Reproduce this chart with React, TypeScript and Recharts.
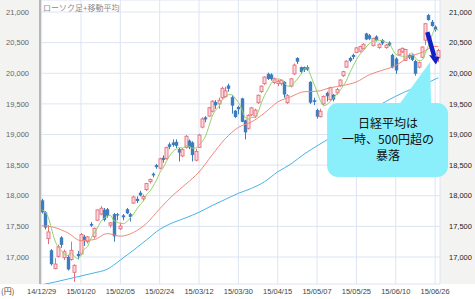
import React from 'react';
import { ComposedChart, Bar, Line, XAxis, YAxis, CartesianGrid, ReferenceDot } from 'recharts';

const dates = [
  '14/12/29','14/12/30','15/01/05','15/01/06','15/01/07','15/01/08','15/01/09','15/01/13','15/01/14','15/01/15',
  '15/01/16','15/01/19','15/01/20','15/01/21','15/01/22','15/01/23','15/01/26','15/01/27','15/01/28','15/01/29',
  '15/01/30','15/02/02','15/02/03','15/02/04','15/02/05','15/02/06','15/02/09','15/02/10','15/02/12','15/02/13',
  '15/02/16','15/02/17','15/02/18','15/02/19','15/02/20','15/02/23','15/02/24','15/02/25','15/02/26','15/02/27',
  '15/03/02','15/03/03','15/03/04','15/03/05','15/03/06','15/03/09','15/03/10','15/03/11','15/03/12','15/03/13',
  '15/03/16','15/03/17','15/03/18','15/03/19','15/03/20','15/03/23','15/03/24','15/03/25','15/03/26','15/03/27',
  '15/03/30','15/03/31','15/04/01','15/04/02','15/04/03','15/04/06','15/04/07','15/04/08','15/04/09','15/04/10',
  '15/04/13','15/04/14','15/04/15','15/04/16','15/04/17','15/04/20','15/04/21','15/04/22','15/04/23','15/04/24',
  '15/04/27','15/04/28','15/04/30','15/05/01','15/05/07','15/05/08','15/05/11','15/05/12','15/05/13','15/05/14',
  '15/05/15','15/05/18','15/05/19','15/05/20','15/05/21','15/05/22','15/05/25','15/05/26','15/05/27','15/05/28',
  '15/05/29','15/06/01','15/06/02','15/06/03','15/06/04','15/06/05','15/06/08','15/06/09','15/06/10','15/06/11',
  '15/06/12','15/06/15','15/06/16','15/06/17','15/06/18','15/06/19','15/06/22','15/06/23','15/06/24','15/06/25',
  '15/06/26','15/06/29',
];

const opens = [
  17925,17730,17300,17110,16810,17010,17320,16990,17000,16960,
  16750,17050,17050,17330,17250,17540,17330,17600,17700,17770,
  17780,17520,17700,17700,17460,17680,17780,17700,17880,17950,
  18050,17950,18100,18230,18360,18500,18450,18620,18610,18840,
  18870,18880,18760,18650,18790,18900,18870,18580,18790,19120,
  19280,19300,19380,19530,19500,19600,19620,19800,19610,19390,
  19450,19590,19230,19100,19320,19300,19520,19700,19830,19990,
  19980,19850,19830,19830,19860,19520,19790,19990,20250,20100,
  20100,20100,19860,19560,19400,19290,19500,19680,19570,19650,
  19680,19800,19960,20100,20250,20300,20340,20360,20400,20650,
  20620,20450,20600,20420,20540,20420,20500,20300,20240,20300,
  20350,20210,20300,20300,20200,20100,20260,20540,20950,20840,
  20760,20250,
];

const highs = [
  17950,17750,17520,17130,16980,17200,17340,17120,17030,17250,
  16880,17100,17390,17360,17340,17570,17480,17780,17830,17800,
  17800,17570,17720,17720,17560,17700,17800,17720,18000,17990,
  18080,18020,18210,18280,18380,18520,18620,18660,18800,18870,
  18920,18920,18780,18780,18990,18920,18890,18770,19010,19280,
  19300,19450,19560,19560,19600,19780,19780,19830,19640,19400,
  19470,19600,19240,19330,19450,19420,19650,19800,19950,20010,
  20000,19930,19890,19900,19870,19660,19920,20160,20260,20110,
  20110,20130,19870,19600,19420,19420,19640,19700,19780,19660,
  19760,19900,20040,20210,20270,20320,20430,20450,20490,20660,
  20640,20580,20620,20490,20560,20480,20520,20320,20260,20400,
  20420,20400,20320,20310,20220,20190,20440,20820,20970,20870,
  20780,20400,
];

const lows = [
  17710,17450,17210,16860,16800,16990,17150,16950,16780,16940,
  16592,16960,17030,17180,17220,17490,17300,17590,17680,17580,
  17640,17480,17250,17600,17440,17600,17700,17580,17870,17880,
  17990,17920,18080,18200,18300,18440,18430,18540,18590,18760,
  18800,18780,18560,18630,18770,18760,18560,18560,18780,19100,
  19200,19290,19360,19420,19420,19580,19600,19700,19340,19270,
  19330,19200,18920,19080,19300,19270,19500,19680,19810,19890,
  19880,19820,19790,19800,19600,19500,19770,19970,20150,19990,
  20020,20040,19500,19480,19260,19280,19480,19540,19550,19540,
  19650,19780,19940,20090,20180,20230,20330,20340,20390,20540,
  20540,20440,20520,20400,20460,20400,20440,20080,19990,20280,
  20330,20200,20230,20200,19960,20080,20250,20460,20860,20760,
  20680,20180,
];

const closes = [
  17730,17480,17409,16883,16885,17167,17197,17087,16796,17109,
  16864,17014,17366,17280,17329,17512,17469,17768,17796,17606,
  17674,17558,17336,17678,17505,17648,17712,17653,17980,17913,
  18005,17987,18199,18265,18332,18467,18603,18585,18786,18798,
  18827,18815,18704,18752,18971,18791,18665,18724,18991,19254,
  19246,19437,19544,19477,19560,19754,19713,19746,19471,19286,
  19411,19207,19035,19313,19435,19398,19641,19790,19938,19908,
  19905,19909,19870,19886,19653,19634,19909,20134,20188,20020,
  20059,20058,19520,19532,19292,19379,19621,19625,19765,19570,
  19733,19890,20026,20197,20203,20264,20414,20437,20473,20551,
  20563,20570,20543,20474,20488,20461,20457,20096,20046,20383,
  20407,20388,20258,20219,19991,20174,20428,20809,20868,20771,
  20706,20370,
];

// 5-day moving average (read per day)
const ma5 = [
  17769,17738,17649,17462,17277,17165,17108,17044,17026,17071,
  17011,16974,17030,17127,17171,17300,17391,17472,17575,17630,
  17663,17680,17594,17570,17550,17545,17576,17639,17700,17781,
  17853,17908,18017,18074,18158,18250,18373,18450,18555,18648,
  18720,18762,18786,18779,18814,18807,18777,18781,18828,18885,
  18976,19130,19294,19392,19453,19554,19610,19650,19649,19594,
  19525,19424,19282,19250,19280,19278,19364,19515,19640,19735,
  19836,19890,19906,19896,19845,19790,19790,19843,19904,19977,
  20062,20092,19969,19838,19692,19556,19469,19490,19536,19592,
  19663,19717,19797,19883,20010,20116,20221,20303,20358,20428,
  20488,20519,20540,20540,20528,20507,20485,20395,20310,20289,
  20278,20264,20296,20331,20253,20206,20214,20324,20454,20610,
  20716,20705,
];

// 25-day moving average (read at every 4th session)
const ma25: Record<number, number> = {
  0: 17511, 4: 17481, 8: 17394, 12: 17266, 16: 17284, 20: 17382, 24: 17340, 28: 17400,
  32: 17550, 36: 17786, 40: 18006, 44: 18190, 48: 18387, 52: 18666, 56: 18930, 60: 19116,
  64: 19205, 68: 19352, 72: 19530, 76: 19616, 80: 19698, 84: 19706, 88: 19763, 92: 19801,
  96: 19858, 100: 19977, 104: 20050, 108: 20126, 112: 20266, 116: 20340, 120: 20439, 121: 20437,
};

// 75-day moving average (read at every 4th session)
const ma75: Record<number, number> = {
  0: 16545, 4: 16590, 8: 16640, 12: 16690, 16: 16740, 20: 16800, 24: 16950, 28: 17110,
  32: 17280, 36: 17450, 40: 17560, 44: 17640, 48: 17730, 52: 17840, 56: 17940, 60: 18040,
  64: 18120, 68: 18230, 72: 18390, 76: 18517, 80: 18678, 84: 18814, 88: 18946, 92: 19068,
  96: 19207, 100: 19365, 104: 19509, 108: 19624, 112: 19723, 116: 19798, 120: 19903, 121: 19926,
};

const xTicks = ['14/12/29','15/01/20','15/02/05','15/02/24','15/03/12','15/03/30','15/04/15','15/05/07','15/05/25','15/06/10','15/06/26'];
const yTicks = [17000, 17500, 18000, 18500, 19000, 19500, 20000, 20500, 21000];
const yDomain = [16559, 21196];

const calloutLines = ['日経平均は', '一時、500円超の', '暴落'];
const legendTitle = 'ローソク足+移動平均';

const data = dates.map((d, i) => ({
  date: d,
  o: opens[i],
  h: highs[i],
  l: lows[i],
  c: closes[i],
  ma5: ma5[i],
  ma25: ma25[i] ?? null,
  ma75: ma75[i] ?? null,
}));

const UP = '#e3707c';
const UP_FILL = '#fbdade';
const DOWN = '#3d7dbd';

const Candle = (props: any) => {
  const { x, y, width, height, payload } = props;
  if (x == null || y == null || !payload) return null;
  const { o, h, l, c } = payload;
  const top = Math.min(y, y + height);
  const span = Math.abs(height);
  const k = h > l ? span / (h - l) : 0;
  const cx = Math.round(x + width / 2) + 0.5;
  const yO = top + (h - o) * k;
  const yC = top + (h - c) * k;
  const up = c >= o;
  const color = up ? UP : DOWN;
  const bTop = Math.min(yO, yC);
  const bH = Math.max(Math.abs(yC - yO), 1);
  return (
    <g>
      <line x1={cx} x2={cx} y1={top} y2={top + span} stroke={color} strokeWidth={1} />
      {up ? (
        <rect x={cx - 1.5} y={bTop} width={3} height={bH} fill={UP_FILL} stroke={UP} strokeWidth={0.9} />
      ) : (
        <rect x={cx - 1.7} y={bTop} width={3.4} height={bH} fill={DOWN} />
      )}
    </g>
  );
};

const Callout = (p: any) => {
  const { cx, cy } = p;
  if (cx == null || cy == null || isNaN(cx) || isNaN(cy)) return null;
  const boxX = cx - 108;
  const boxY = cy + 39;
  return (
    <g>
      <polygon
        points={`${cx - 5},${cy - 2} ${cx - 37},${boxY + 3} ${cx - 4},${boxY + 3}`}
        fill="#8aeffb"
      />
      <rect x={boxX} y={boxY} width={121} height={74} rx={11} ry={11} fill="#8aeffb" />
      <text
        x={cx - 47}
        y={cy + 64}
        textAnchor="middle"
        fontSize={12}
        fill="#111"
        fontFamily="'Noto Sans CJK JP', 'Noto Sans', sans-serif"
      >
        {calloutLines.map((t, i) => (
          <tspan key={i} x={cx - 47} dy={i === 0 ? 0 : 16}>
            {t}
          </tspan>
        ))}
      </text>
      <line x1={cx - 7.8} y1={cy - 32} x2={cx - 0.9} y2={cy - 8} stroke="#1020c4" strokeWidth={4.5} />
      <polygon points={`${cx - 6},${cy - 9} ${cx + 4.5},${cy - 7} ${cx + 0.8},${cy + 0.5}`} fill="#1020c4" />
    </g>
  );
};

const fmt = (v: number) => v.toLocaleString('en-US');

export default function App() {
  const font = "'Liberation Sans', Arial, sans-serif";
  return (
    <div style={{ position: 'absolute', left: 0, top: 0, width: 475, height: 299, background: '#fff', overflow: 'hidden', fontFamily: font }}>
      <div style={{ position: 'absolute', left: 0, top: 0, width: 40, height: 284, background: '#f3f3f1' }} />
      <div style={{ position: 'absolute', left: 440, top: 0, width: 35, height: 284, background: '#f3f3f1' }} />
      <div style={{ position: 'absolute', left: 0, top: 0 }}>
        <ComposedChart width={475} height={299} data={data} margin={{ top: 0, right: 0, bottom: 0, left: 0 }}>
          <CartesianGrid stroke="#dde4f2" strokeWidth={1} />
          <XAxis
            dataKey="date"
            ticks={xTicks}
            interval={0}
            height={15}
            tickLine={false}
            axisLine={false}
            tickSize={0}
            tickMargin={5}
            tick={{ fontSize: 7.5, fill: '#444', fontFamily: font }}
          />
          <YAxis
            orientation="left"
            width={40}
            domain={yDomain}
            allowDataOverflow
            ticks={yTicks}
            tickFormatter={fmt}
            tickLine={false}
            tickSize={0}
            tickMargin={11}
            axisLine={{ stroke: '#a4a4a4', strokeWidth: 1.5 }}
            tick={{ fontSize: 7.5, fill: '#666', fontFamily: font }}
          />
          <YAxis
            yAxisId="R"
            orientation="right"
            width={35}
            domain={yDomain}
            allowDataOverflow
            ticks={yTicks}
            tickFormatter={fmt}
            tickLine={false}
            tickSize={0}
            tickMargin={9}
            axisLine={false}
            tick={{ fontSize: 7.5, fill: '#222', fontFamily: font }}
          />
          <Line dataKey="ma75" type="monotone" stroke="#4ab3e6" strokeWidth={1} dot={false} connectNulls isAnimationActive={false} />
          <Line dataKey="ma25" type="monotone" stroke="#f2877a" strokeWidth={1} dot={false} connectNulls isAnimationActive={false} />
          <Bar
            dataKey={(d: any) => [d.l, d.h]}
            barSize={3}
            isAnimationActive={false}
            shape={(props: any) => <Candle {...props} />}
          />
          <Line dataKey="ma5" type="monotone" stroke="#93d165" strokeWidth={1} dot={false} isAnimationActive={false} />
          <ReferenceDot x={dates[120]} y={20150} r={0} ifOverflow="visible" shape={(p: any) => <Callout {...p} />} />
        </ComposedChart>
      </div>
      <div style={{ position: 'absolute', left: 43, top: 3, fontSize: 8, lineHeight: '10px', color: '#8a8a8a', fontFamily: "'Noto Sans CJK JP', sans-serif" }}>
        {legendTitle}
      </div>
      <div style={{ position: 'absolute', left: 1, top: 286, fontSize: 8, lineHeight: '10px', color: '#444', fontFamily: "'Noto Sans CJK JP', sans-serif" }}>
        (円)
      </div>
    </div>
  );
}
